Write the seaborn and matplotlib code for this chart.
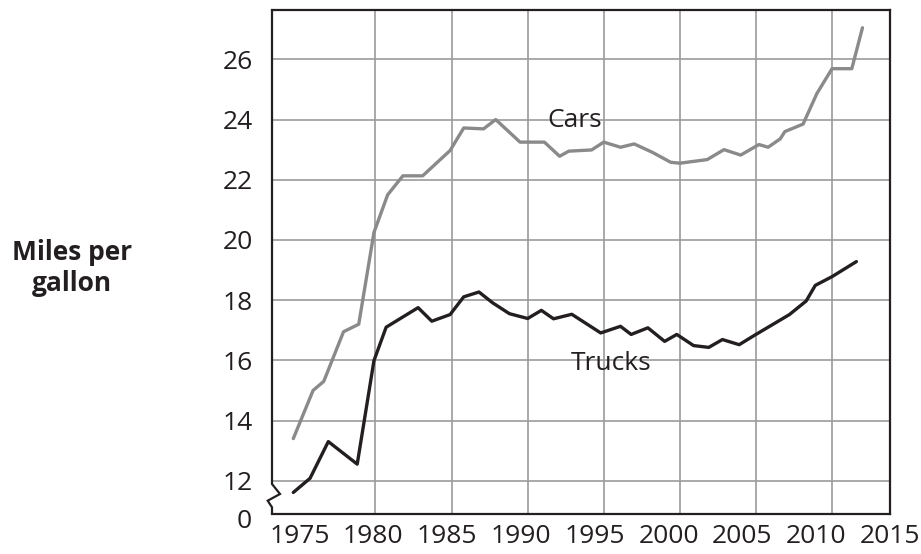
import numpy as np
import pandas as pd
import matplotlib
matplotlib.use("Agg")
import matplotlib.pyplot as plt
import seaborn as sns

# ---- data ----
car_years = [1974.6, 1975.9, 1976.6, 1977.9, 1978.9, 1979.9, 1980.8, 1981.8, 1983.1,
             1984.9, 1985.8, 1987.1, 1987.9, 1989.5, 1991.1, 1992.1, 1992.7, 1994.2,
             1995.0, 1996.1, 1997.0, 1998.2, 1999.4, 2000.0, 2001.8, 2002.9, 2004.0,
             2005.2, 2005.8, 2006.6, 2006.9, 2008.1, 2009.0, 2010.0, 2011.3, 2012.0]
car_mpg = [13.4, 15.0, 15.3, 16.95, 17.2, 20.25, 21.5, 22.13, 22.13,
           22.97, 23.72, 23.69, 24.0, 23.25, 23.25, 22.78, 22.95, 22.99,
           23.25, 23.08, 23.19, 22.91, 22.58, 22.55, 22.67, 23.0, 22.82,
           23.17, 23.08, 23.36, 23.6, 23.85, 24.86, 25.69, 25.69, 27.05]

truck_years = [1974.6, 1975.7, 1976.9, 1978.8, 1979.9, 1980.7, 1982.8, 1983.7, 1984.9,
               1985.8, 1986.8, 1987.7, 1988.8, 1990.0, 1990.9, 1991.7, 1992.9, 1994.8,
               1996.1, 1996.8, 1997.9, 1999.0, 1999.8, 2000.9, 2001.9, 2002.8, 2003.9,
               2004.9, 2006.1, 2007.2, 2008.3, 2008.9, 2010.0, 2011.6]
truck_mpg = [11.61, 12.08, 13.3, 12.55, 15.99, 17.1, 17.75, 17.3, 17.52,
             18.11, 18.27, 17.91, 17.55, 17.39, 17.66, 17.38, 17.53, 16.91,
             17.13, 16.86, 17.08, 16.63, 16.86, 16.49, 16.43, 16.69, 16.52,
             16.83, 17.19, 17.52, 17.97, 18.49, 18.78, 19.28]

x_tick_labels = ["1975", "1980", "1985", "1990", "1995", "2000", "2005", "2010", "2015"]
grid_years = [1975, 1980, 1985, 1990, 1995, 2000, 2005, 2010]
y_ticks = [12, 14, 16, 18, 20, 22, 24, 26]

series_labels = ["Cars", "Trucks"]

# ---- style ----
sns.set_style("white")
plt.rcParams["font.family"] = ["Open Sans", "DejaVu Sans"]

INK = "#231f20"
GRID = "#9b9b9b"
CAR_COLOR = "#8a8a8a"

fig = plt.figure(figsize=(9.21, 5.54), dpi=100)
ax = fig.add_axes([272 / 921, 1 - 514 / 554, (890 - 272) / 921, (514 - 10) / 554])

xmin, xmax = 1973.2, 2013.81
ymin, ymax = 10.894, 27.64

cars = pd.DataFrame({"year": car_years, "mpg": car_mpg})
trucks = pd.DataFrame({"year": truck_years, "mpg": truck_mpg})

sns.lineplot(data=cars, x="year", y="mpg", color=CAR_COLOR, lw=2.4, ax=ax,
             estimator=None, sort=False, zorder=3)
sns.lineplot(data=trucks, x="year", y="mpg", color=INK, lw=2.4, ax=ax,
             estimator=None, sort=False, zorder=3)

ax.set_xlim(xmin, xmax)
ax.set_ylim(ymin, ymax)

# labels evenly spaced from 1975 to the right edge; gridlines at grid_years
ax.set_xticks(np.linspace(1975, xmax, len(x_tick_labels)))
ax.set_xticklabels(x_tick_labels)
ax.set_xticks(grid_years, minor=True)
ax.set_yticks(y_ticks)
ax.set_yticklabels([str(v) for v in y_ticks])

ax.grid(False)
ax.xaxis.grid(True, which="minor", color=GRID, lw=1.2)
ax.yaxis.grid(True, which="major", color=GRID, lw=1.2)
ax.set_axisbelow(True)

ax.tick_params(axis="both", which="both", length=0, labelsize=19, colors=INK)
ax.tick_params(axis="x", pad=7)
ax.tick_params(axis="y", pad=14)

ax.set_xlabel("")
ax.set_ylabel("")

for side in ["top", "right", "bottom"]:
    ax.spines[side].set_visible(True)
    ax.spines[side].set_color(INK)
    ax.spines[side].set_linewidth(1.6)
ax.spines["left"].set_visible(False)

# left axis with break symbol (axes fraction coords)
W, H = 618.0, 504.0
bx = [0, 0, 8 / W, -4.3 / W, 0, 0]
by = [1, 30 / H, 20 / H, 13.3 / H, 6.7 / H, 0]
ax.plot(bx, by, transform=ax.transAxes, color=INK, lw=1.6, clip_on=False,
        solid_joinstyle="miter", zorder=5)

ax.annotate("0", xy=(0, 0), xycoords="axes fraction", xytext=(-20, -8),
            textcoords="offset pixels", ha="right", va="center",
            fontsize=19, color=INK)

ax.text(1993.1, 23.76, series_labels[0], ha="center", va="baseline",
        fontsize=19, color=INK)
ax.text(1995.5, 15.68, series_labels[1], ha="center", va="baseline",
        fontsize=19, color=INK)

fig.text(72 / 921, 1 - 268 / 554, "Miles per\ngallon", ha="center", va="center",
         fontsize=19, fontweight="bold", color=INK, linespacing=1.15)

fig.savefig("out.png", dpi=100)
